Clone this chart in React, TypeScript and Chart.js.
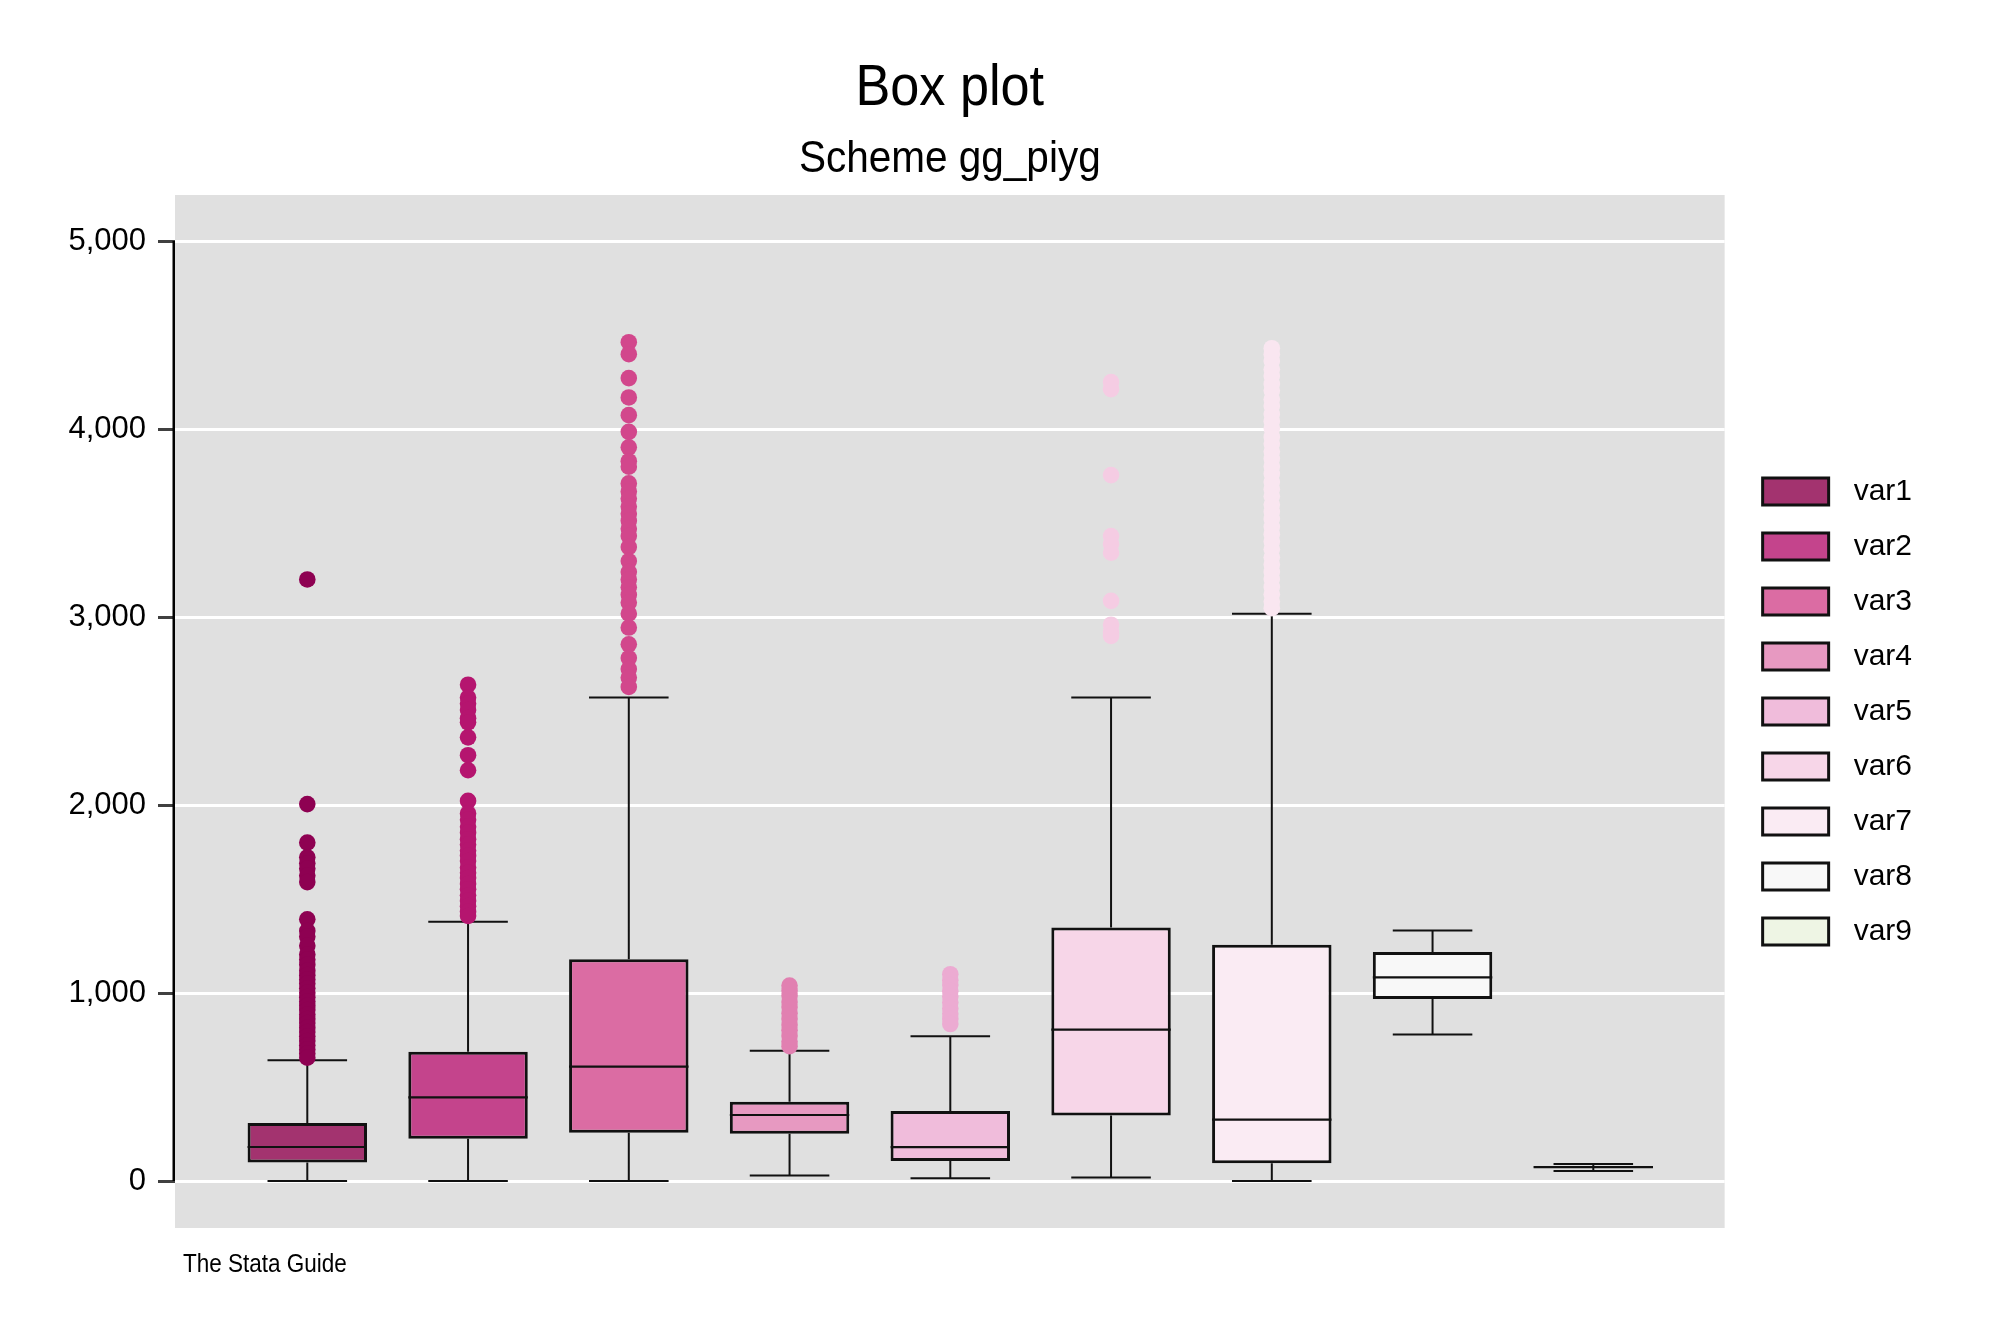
import { useEffect, useRef } from "react"
import { Chart, registerables } from "chart.js"

Chart.register(...registerables)

// box plot summary
const categories = ["var1", "var2", "var3", "var4", "var5", "var6", "var7", "var8", "var9"]
const whiskerLow = [0, 0, 0, 29, 15, 18, 0, 779, 53]
const q1 = [99, 225, 257, 251, 106, 348, 94, 968, 70]
const medians = [181, 445, 608, 351, 180, 805, 327, 1083, 74]
const q3 = [308, 687, 1180, 422, 372, 1348, 1257, 1218, 78]
const whiskerHigh = [643, 1379, 2572, 693, 770, 2572, 3018, 1333, 91]

const outliersVar1 = [3200, 2005, 1800, 1722, 1690, 1662, 1625, 1590, 1392, 1330, 1300, 1252, 1205, 1178, 1150, 1118, 1095, 1072, 1050, 1025, 1002, 978, 955, 932, 910, 886, 862, 840, 815, 792, 770, 745, 722, 700, 678, 656]
const outliersVar2 = [2640, 2572, 2540, 2505, 2462, 2440, 2360, 2265, 2185, 2022, 1955, 1922, 1885, 1852, 1818, 1790, 1758, 1730, 1702, 1668, 1640, 1612, 1580, 1552, 1520, 1490, 1462, 1432, 1410]
const outliersVar3 = [4462, 4398, 4271, 4168, 4074, 3985, 3903, 3829, 3800, 3711, 3668, 3630, 3588, 3550, 3512, 3470, 3431, 3372, 3298, 3239, 3200, 3158, 3118, 3077, 3018, 2944, 2855, 2782, 2723, 2678, 2628]
const outliersVar4 = [1040, 1012, 985, 952, 925, 893, 862, 830, 802, 772, 742, 717]
const outliersVar5 = [1100, 1068, 1042, 1010, 982, 950, 918, 890, 862, 835]
const outliersVar6 = [4250, 4212, 3755, 3431, 3388, 3342, 3086, 2959, 2920, 2900]
const outliersVar7 = [4430, 4398, 4362, 4318, 4282, 4240, 4205, 4158, 4122, 4080, 4042, 4003, 3958, 3922, 3880, 3842, 3801, 3762, 3718, 3680, 3642, 3598, 3560, 3522, 3480, 3441, 3402, 3360, 3318, 3280, 3240, 3202, 3160, 3121, 3082, 3047]
const outliers = [outliersVar1, outliersVar2, outliersVar3, outliersVar4, outliersVar5, outliersVar6, outliersVar7, [], []]

const yTicks = [0, 1000, 2000, 3000, 4000, 5000]
const yMin = -250
const yMax = 5245

const title = "Box plot"
const subtitle = "Scheme gg_piyg"
const note = "The Stata Guide"

const markerColors = ["#8e0152", "#b5156f", "#d2478c", "#e180b1", "#ecabd2", "#f5cce3", "#f9e6f0", "#f6f6f6", "#eaf3dd"]
const boxFills = ["#a3336f", "#c4448c", "#db6ca3", "#e799c1", "#f0bcdb", "#f7d6e8", "#faebf3", "#f8f8f8", "#eef5e4"]

const FONT = "'Liberation Sans Narrow', 'Arial Narrow', 'Liberation Sans', Arial, sans-serif"
const SQUEEZE = 0.9 // the original type is a bit condensed
const BOX_RATIO = 0.743
const BOX_HALF = BOX_RATIO / 2
const CAP_HALF = 0.2475
const LEGEND_NUDGE = 13

function squeezedText(ctx: CanvasRenderingContext2D, text: string, x: number, y: number, font: string, align: CanvasTextAlign) {
  ctx.save()
  ctx.font = font
  ctx.textAlign = align
  ctx.textBaseline = "alphabetic"
  ctx.translate(x, y)
  ctx.scale(SQUEEZE, 1)
  ctx.fillText(text, 0, 0)
  ctx.restore()
}

const decorPlugin = {
  id: "decor",
  afterLayout(chart: any) {
    // legend sits a little further from the plot than chart.js puts it
    const lg = chart.legend
    if (lg) {
      lg.left += LEGEND_NUDGE
      lg.right += LEGEND_NUDGE
    }
  },
  beforeDraw(chart: any) {
    const { ctx, chartArea } = chart
    ctx.save()
    ctx.fillStyle = "#e0e0e0"
    ctx.fillRect(chartArea.left, chartArea.top, chartArea.right - chartArea.left, chartArea.bottom - chartArea.top)
    ctx.restore()
  },
  afterDraw(chart: any) {
    const { ctx, chartArea } = chart
    const y = chart.scales.y
    ctx.save()
    // axis line only spans the ticks
    ctx.strokeStyle = "#000"
    ctx.lineWidth = 2.5
    ctx.beginPath()
    ctx.moveTo(chartArea.left - 1.25, y.getPixelForValue(yTicks[0]))
    ctx.lineTo(chartArea.left - 1.25, y.getPixelForValue(yTicks[yTicks.length - 1]))
    ctx.stroke()
    ctx.fillStyle = "#000"
    const cx = (chartArea.left + chartArea.right) / 2
    squeezedText(ctx, title, cx, chartArea.top - 90, `58px ${FONT}`, "center")
    squeezedText(ctx, subtitle, cx, chartArea.top - 23, `45px ${FONT}`, "center")
    squeezedText(ctx, note, chartArea.left + 8, chartArea.bottom + 44, `25px ${FONT}`, "left")
    ctx.restore()
  },
}

export default function App() {
  const canvasRef = useRef<HTMLCanvasElement>(null)

  useEffect(() => {
    document.body.style.margin = "0"
    if (!canvasRef.current) return

    const xs = categories.map((_, i) => i + 1)

    const boxSets = categories.map((name, i) => ({
      type: "bar",
      label: name,
      data: [{ x: xs[i], y: [q1[i], q3[i]] }],
      backgroundColor: boxFills[i],
      borderColor: "#111111",
      borderWidth: 3,
      borderSkipped: false,
      grouped: false,
      categoryPercentage: 1,
      barPercentage: BOX_RATIO,
      order: 2,
    }))

    const whiskerPoints = xs.flatMap((x, i) => [
      { x, y: q3[i] }, { x, y: whiskerHigh[i] }, { x, y: null },
      { x, y: q1[i] }, { x, y: whiskerLow[i] }, { x, y: null },
      { x: x - CAP_HALF, y: whiskerHigh[i] }, { x: x + CAP_HALF, y: whiskerHigh[i] }, { x, y: null },
      { x: x - CAP_HALF, y: whiskerLow[i] }, { x: x + CAP_HALF, y: whiskerLow[i] }, { x, y: null },
    ])

    const medianPoints = xs.flatMap((x, i) => [
      { x: x - BOX_HALF, y: medians[i] }, { x: x + BOX_HALF, y: medians[i] }, { x, y: null },
    ])

    const outlierSets = outliers.map((vals, i) => ({
      type: "scatter",
      label: categories[i] + " outliers",
      data: vals.map((v) => ({ x: xs[i], y: v })),
      backgroundColor: markerColors[i],
      borderWidth: 0,
      pointRadius: 8.3,
      order: 0,
    }))

    const chart = new Chart(canvasRef.current, {
      type: "bar",
      data: {
        datasets: [
          ...boxSets,
          {
            type: "scatter",
            label: "whiskers",
            data: whiskerPoints,
            showLine: true,
            spanGaps: false,
            borderColor: "#111111",
            borderWidth: 2,
            pointRadius: 0,
            order: 3,
          },
          {
            type: "scatter",
            label: "medians",
            data: medianPoints,
            showLine: true,
            spanGaps: false,
            borderColor: "#111111",
            borderWidth: 2.2,
            pointRadius: 0,
            order: 1,
          },
          ...outlierSets,
        ] as any,
      },
      options: {
        responsive: false,
        devicePixelRatio: 1,
        animation: false,
        events: [],
        layout: { padding: { top: 195, bottom: 105, left: 0, right: 101 } },
        plugins: {
          title: { display: false },
          tooltip: { enabled: false },
          legend: {
            position: "right",
            labels: {
              filter: (item: any) => item.datasetIndex < categories.length,
              boxWidth: 66,
              boxHeight: 27,
              padding: 25,
              textAlign: "right",
              color: "#000",
              font: { family: FONT, size: 30 },
            },
          },
        },
        scales: {
          x: {
            type: "linear",
            min: 0.177,
            max: 9.817,
            offset: false,
            display: false,
            afterBuildTicks: (scale: any) => {
              scale.ticks = xs.map((v) => ({ value: v }))
            },
          },
          y: {
            min: yMin,
            max: yMax,
            afterBuildTicks: (scale: any) => {
              scale.ticks = yTicks.map((v) => ({ value: v }))
            },
            afterFit: (scale: any) => {
              scale.width = 175
            },
            border: { display: false },
            grid: {
              color: "#ffffff",
              lineWidth: 3,
              tickColor: "#404040",
              tickWidth: 3,
              tickLength: 17,
            },
            ticks: {
              color: "#000",
              padding: 12,
              font: { family: FONT, size: 31 },
              callback: (v: any) => Number(v).toLocaleString("en-US"),
            },
          },
        },
      } as any,
      plugins: [decorPlugin],
    })

    return () => chart.destroy()
  }, [])

  return (
    <div style={{ width: 2000, height: 1333 }}>
      <canvas ref={canvasRef} width={2000} height={1333} style={{ display: "block" }} />
    </div>
  )
}
